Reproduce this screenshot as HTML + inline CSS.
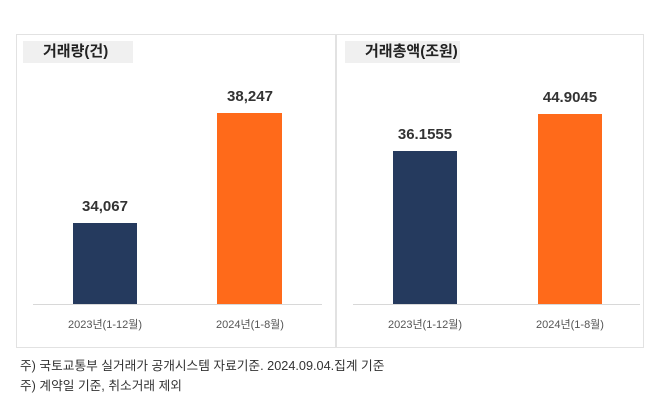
<!DOCTYPE html>
<html><head><meta charset="utf-8"><style>
body{margin:0;width:670px;height:407px;background:#fff;position:relative;overflow:hidden;font-family:"Liberation Sans","Noto Sans CJK KR",sans-serif}
.a{position:absolute}
.p{border:1px solid #e2e2e2}
.t{background:#f0f0f0;font-weight:bold;font-size:15px;color:#222;line-height:22px;padding-left:20px;box-sizing:border-box}
.v{font-weight:bold;font-size:15px;color:#333;text-align:center;width:120px}
.l{font-size:11px;color:#555;text-align:center;width:140px}
.f{font-size:12.7px;color:#333;left:20px;white-space:nowrap}
</style></head><body>
<div class="a p" style="left:16px;top:34px;width:318px;height:312px"></div>
<div class="a p" style="left:336px;top:34px;width:306px;height:312px"></div>
<div class="a t" style="left:23px;top:41px;width:110px;height:22px">거래량(건)</div>
<div class="a t" style="left:345px;top:41px;width:115px;height:22px">거래총액(조원)</div>
<div class="a" style="left:33px;top:304px;width:289px;height:1px;background:#d8d8d8"></div>
<div class="a" style="left:353px;top:304px;width:287px;height:1px;background:#d8d8d8"></div>
<div class="a" style="left:73px;top:223px;width:64px;height:81px;background:#253a5e"></div>
<div class="a" style="left:217px;top:113px;width:65px;height:191px;background:#ff6a1a"></div>
<div class="a" style="left:393px;top:151px;width:64px;height:153px;background:#253a5e"></div>
<div class="a" style="left:538px;top:114px;width:64px;height:190px;background:#ff6a1a"></div>
<div class="a v" style="left:45px;top:198px">34,067</div>
<div class="a v" style="left:190px;top:88px">38,247</div>
<div class="a v" style="left:365px;top:126px">36.1555</div>
<div class="a v" style="left:510px;top:89px">44.9045</div>
<div class="a l" style="left:35px;top:316px">2023년(1-12월)</div>
<div class="a l" style="left:180px;top:316px">2024년(1-8월)</div>
<div class="a l" style="left:355px;top:316px">2023년(1-12월)</div>
<div class="a l" style="left:500px;top:316px">2024년(1-8월)</div>
<div class="a f" style="top:355px">주) 국토교통부 실거래가 공개시스템 자료기준. 2024.09.04.집계 기준</div>
<div class="a f" style="top:375px">주) 계약일 기준, 취소거래 제외</div>
</body></html>
